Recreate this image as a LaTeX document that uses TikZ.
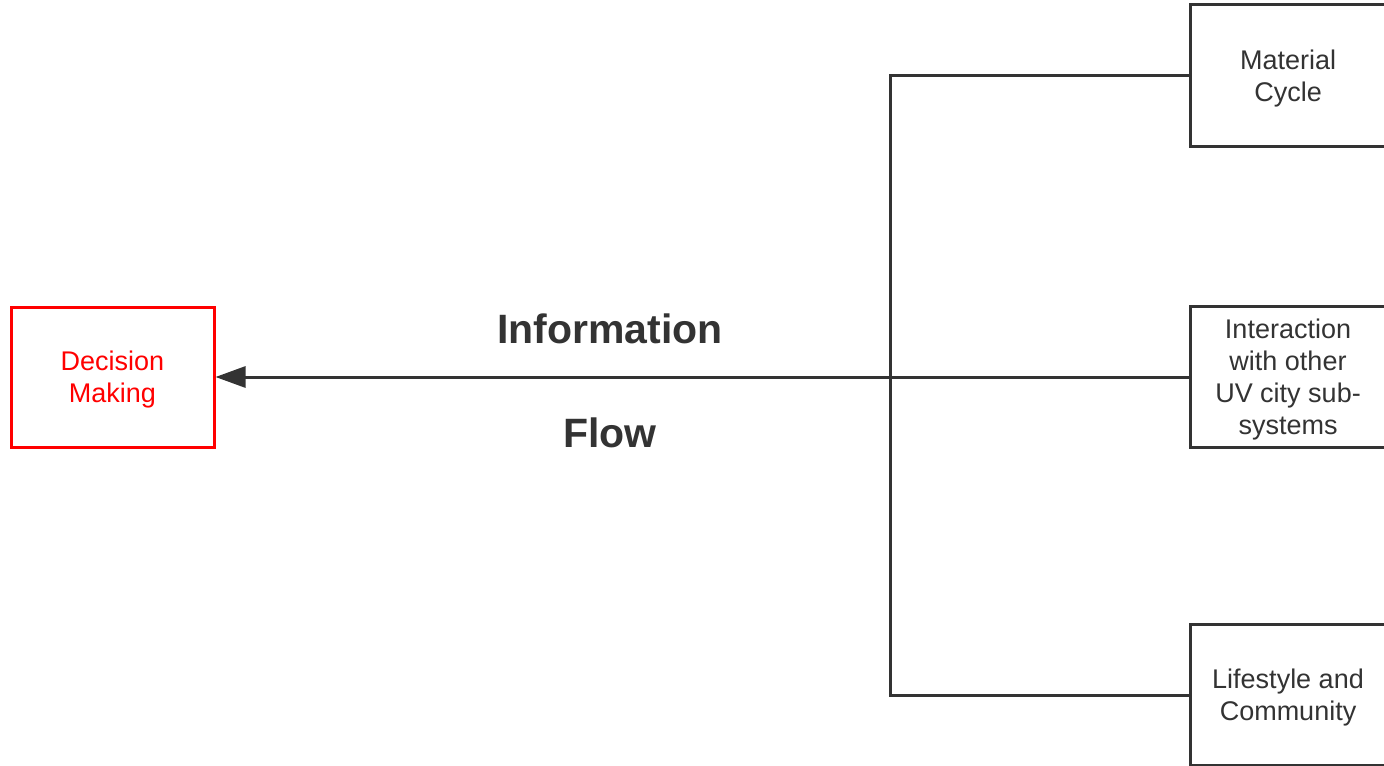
\documentclass[tikz,border=0pt]{standalone}
\usepackage{fontspec}
\setmainfont{Liberation Sans}
\usepackage{xcolor}
\usetikzlibrary{arrows.meta,positioning}
\definecolor{flowInk}{HTML}{333333}
\definecolor{flowRed}{HTML}{FF0000}

\begin{document}
\begin{tikzpicture}[
  x=0.5pt,y=-0.5pt,
  font=\fontsize{13.5}{16}\selectfont,
  every node/.style={align=center},
  subbox/.style ={rectangle,draw=flowInk,line width=1.5pt,fill=white,text=flowInk,minimum width=98pt,minimum height=70.5pt,inner sep=2pt,text depth=0pt},
  decbox/.style ={rectangle,draw=flowRed,line width=1.5pt,fill=white,text=flowRed,minimum width=101.5pt,minimum height=70pt,inner sep=2pt,text depth=0pt},
  lbl/.style    ={text=flowInk,font=\fontsize{20.5}{24}\selectfont\bfseries},
  conn/.style   ={draw=flowInk,line width=1.5pt},
  arrx/.style   ={-{Triangle[length=15pt,width=10.5pt]},draw=flowInk,line width=1.5pt}
]
\useasboundingbox (0,0) rectangle (1384,765);

% decision
\node[decbox] (dec) at (112.5,377) {Decision\\Making};

% sub-systems column
\node[subbox] (matl)  at (1288,75.5) {Material\\Cycle};
\node[subbox] (inter) at (1288,377)  {Interaction\\with other\\UV city sub-\\systems};
\node[subbox] (life)  at (1288,695)  {Lifestyle and\\Community};

% bus
\coordinate (hub) at (890,377);

% labels
\node[lbl] (info) at (610,329) {Information};
\node[lbl] (flow) at (610,433) {Flow};

% arrows
\draw[conn] (matl.west) -| (hub);
\draw[conn] (life.west) -| (hub);
\draw[arrx] (inter.west) -- (dec.east);
\end{tikzpicture}
\end{document}
